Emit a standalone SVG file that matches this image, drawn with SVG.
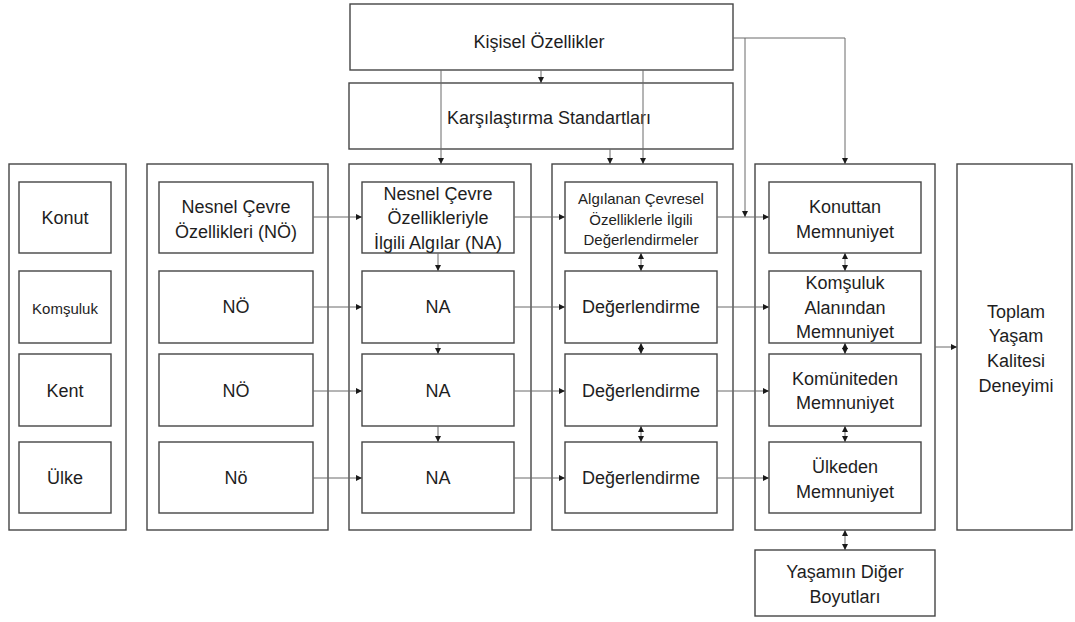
<svg xmlns="http://www.w3.org/2000/svg" width="1075" height="622" viewBox="0 0 1075 622">
<style>
  .box { fill: #ffffff; stroke: #454545; stroke-width: 1.4; }
  .t { font-family: "Liberation Sans", Arial, sans-serif; font-size: 18px; fill: #1e1e1e; text-anchor: middle; dominant-baseline: central; }
  .s { font-size: 15px; }
  .c { fill: none; stroke: #6a6a6a; stroke-width: 1; }
  .a { marker-end: url(#ah); }
  .d { marker-start: url(#ah); marker-end: url(#ah); }
</style>
<defs>
  <marker id="ah" viewBox="0 0 10 10" refX="10" refY="5" markerWidth="6" markerHeight="6" markerUnits="userSpaceOnUse" orient="auto-start-reverse">
    <path d="M0,0 L10,5 L0,10 z" fill="#1a1a1a"/>
  </marker>
</defs>
<rect width="1075" height="622" fill="#ffffff"/>

<g id="kisisel">
  <rect class="box" x="350" y="4" width="383" height="66"/>
  <text class="t" x="539" y="42">Kişisel Özellikler</text>
</g>
<g id="karsilastirma">
  <rect class="box" x="349" y="83" width="384" height="66"/>
  <text class="t" x="549" y="118">Karşılaştırma Standartları</text>
</g>

<g id="col1">
  <rect class="box" x="9" y="164" width="117" height="366"/>
  <g id="konut"><rect class="box" x="19" y="182" width="92" height="71"/><text class="t" x="65" y="218">Konut</text></g>
  <g id="komsuluk"><rect class="box" x="19" y="271" width="92" height="72"/><text class="t s" x="65" y="308">Komşuluk</text></g>
  <g id="kent"><rect class="box" x="19" y="354" width="92" height="72"/><text class="t" x="65" y="391">Kent</text></g>
  <g id="ulke"><rect class="box" x="19" y="442" width="92" height="71"/><text class="t" x="65" y="478">Ülke</text></g>
</g>

<g id="col2">
  <rect class="box" x="147" y="164" width="181" height="366"/>
  <g id="no1"><rect class="box" x="159" y="182" width="154" height="71"/><text class="t" x="236" y="207">Nesnel Çevre</text><text class="t" x="236" y="232">Özellikleri (NÖ)</text></g>
  <g id="no2"><rect class="box" x="159" y="271" width="154" height="72"/><text class="t" x="236" y="307">NÖ</text></g>
  <g id="no3"><rect class="box" x="159" y="354" width="154" height="72"/><text class="t" x="236" y="391">NÖ</text></g>
  <g id="no4"><rect class="box" x="159" y="442" width="154" height="71"/><text class="t" x="236" y="478">Nö</text></g>
</g>

<g id="col3">
  <rect class="box" x="349" y="164" width="182" height="366"/>
  <g id="na1"><rect class="box" x="362" y="182" width="152" height="71"/><text class="t" x="438" y="194">Nesnel Çevre</text><text class="t" x="438" y="218">Özellikleriyle</text><text class="t" x="438" y="243">İlgili Algılar (NA)</text></g>
  <g id="na2"><rect class="box" x="362" y="271" width="152" height="72"/><text class="t" x="438" y="307">NA</text></g>
  <g id="na3"><rect class="box" x="362" y="354" width="152" height="72"/><text class="t" x="438" y="391">NA</text></g>
  <g id="na4"><rect class="box" x="362" y="442" width="152" height="71"/><text class="t" x="438" y="478">NA</text></g>
</g>

<g id="col4">
  <rect class="box" x="552" y="164" width="181" height="366"/>
  <g id="deg1"><rect class="box" x="565" y="182" width="152" height="71"/><text class="t s" x="641" y="198">Algılanan Çevresel</text><text class="t s" x="641" y="219">Özelliklerle İlgili</text><text class="t s" x="641" y="239">Değerlendirmeler</text></g>
  <g id="deg2"><rect class="box" x="565" y="271" width="152" height="72"/><text class="t" x="641" y="307">Değerlendirme</text></g>
  <g id="deg3"><rect class="box" x="565" y="354" width="152" height="72"/><text class="t" x="641" y="391">Değerlendirme</text></g>
  <g id="deg4"><rect class="box" x="565" y="442" width="152" height="71"/><text class="t" x="641" y="478">Değerlendirme</text></g>
</g>

<g id="col5">
  <rect class="box" x="755" y="164" width="180" height="366"/>
  <g id="mem1"><rect class="box" x="769" y="182" width="152" height="71"/><text class="t" x="845" y="207">Konuttan</text><text class="t" x="845" y="232">Memnuniyet</text></g>
  <g id="mem2"><rect class="box" x="769" y="271" width="152" height="72"/><text class="t" x="845" y="283">Komşuluk</text><text class="t" x="845" y="308">Alanından</text><text class="t" x="845" y="332">Memnuniyet</text></g>
  <g id="mem3"><rect class="box" x="769" y="354" width="152" height="72"/><text class="t" x="845" y="379">Komüniteden</text><text class="t" x="845" y="403">Memnuniyet</text></g>
  <g id="mem4"><rect class="box" x="769" y="442" width="152" height="71"/><text class="t" x="845" y="467">Ülkeden</text><text class="t" x="845" y="492">Memnuniyet</text></g>
</g>

<g id="toplam">
  <rect class="box" x="957" y="164" width="115" height="366"/>
  <text class="t" x="1016" y="312">Toplam</text>
  <text class="t" x="1016" y="336">Yaşam</text>
  <text class="t" x="1016" y="361">Kalitesi</text>
  <text class="t" x="1016" y="386">Deneyimi</text>
</g>

<g id="yasamin">
  <rect class="box" x="755" y="550" width="180" height="66"/>
  <text class="t" x="845" y="572">Yaşamın Diğer</text>
  <text class="t" x="845" y="597">Boyutları</text>
</g>

<g id="connectors">
  <path class="c a" d="M541,70 V83"/>
  <path class="c a" d="M441,70 V164"/>
  <path class="c a" d="M610,149 V164"/>
  <path class="c a" d="M643,70 V164"/>
  <path class="c a" d="M733,38 H845 V164"/>
  <path class="c a" d="M745,38 V217"/>

  <path class="c a" d="M313,217 H362"/>
  <path class="c a" d="M514,217 H565"/>
  <path class="c a" d="M717,217 H769"/>
  <path class="c a" d="M313,307 H362"/>
  <path class="c a" d="M514,307 H565"/>
  <path class="c a" d="M717,307 H769"/>
  <path class="c a" d="M313,391 H362"/>
  <path class="c a" d="M514,391 H565"/>
  <path class="c a" d="M717,391 H769"/>
  <path class="c a" d="M313,478 H362"/>
  <path class="c a" d="M514,478 H565"/>
  <path class="c a" d="M717,478 H769"/>

  <path class="c a" d="M438,253 V271"/>
  <path class="c a" d="M438,343 V354"/>
  <path class="c a" d="M438,426 V442"/>

  <path class="c d" d="M641,253 V271"/>
  <path class="c d" d="M641,343 V354"/>
  <path class="c d" d="M641,426 V442"/>

  <path class="c d" d="M845,253 V271"/>
  <path class="c d" d="M845,343 V354"/>
  <path class="c d" d="M845,426 V442"/>
  <path class="c d" d="M845,530 V550"/>

  <path class="c a" d="M935,347 H957"/>
</g>
</svg>
